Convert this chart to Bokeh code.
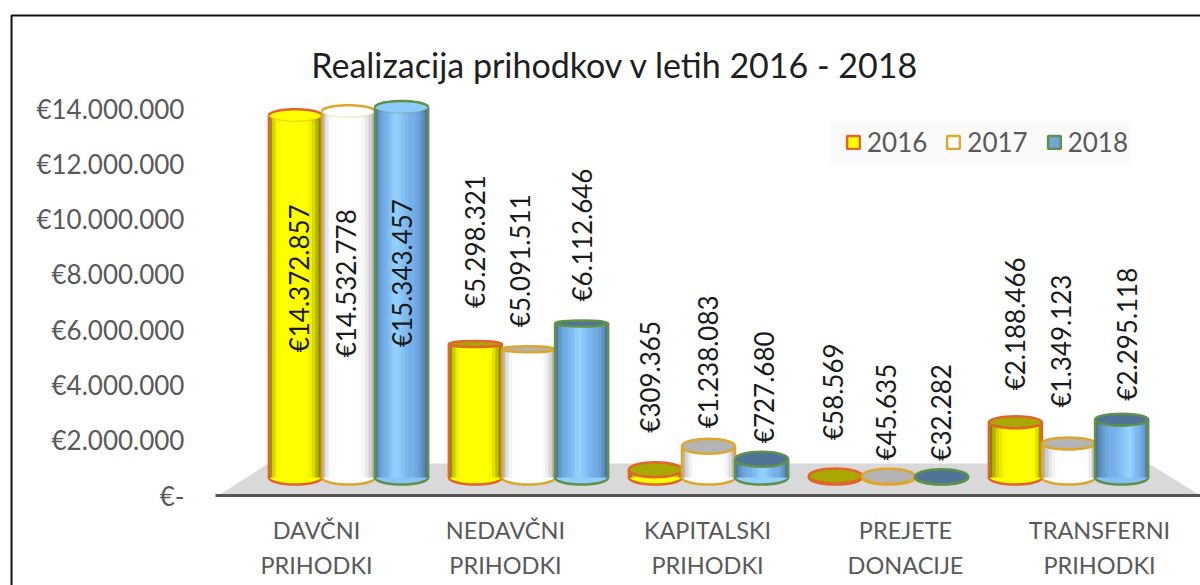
from bokeh.embed import file_html
from bokeh.resources import INLINE
from bokeh.plotting import figure
from bokeh.models import (Range1d, LinearAxis, FixedTicker, ColumnDataSource, Legend, LegendItem)
from bokeh.core.properties import value
import math

# ---- data ----
categories_line1 = ["DAVČNI", "NEDAVČNI", "KAPITALSKI", "PREJETE", "TRANSFERNI"]
categories_line2 = ["PRIHODKI", "PRIHODKI", "PRIHODKI", "DONACIJE", "PRIHODKI"]
years = ["2016", "2017", "2018"]
values_2016 = [14372857, 5298321, 309365, 58569, 2188466]
values_2017 = [14532778, 5091511, 1238083, 45635, 1349123]
values_2018 = [15343457, 6112646, 727680, 32282, 2295118]
y_ticks = [0, 2000000, 4000000, 6000000, 8000000, 10000000, 12000000, 14000000]
y_tick_labels = ["€-", "€2.000.000", "€4.000.000", "€6.000.000", "€8.000.000",
                 "€10.000.000", "€12.000.000", "€14.000.000"]
title_text = "Realizacija prihodkov v letih 2016 - 2018"

# ---- styling and layout ----
FONT = "Lato"
series_values = [values_2016, values_2017, values_2018]
outline = ["#e2652c", "#dca72c", "#5f9148"]
light = [(255, 255, 0), (255, 255, 255), (150, 212, 255)]
mid = [(255, 255, 0), (255, 255, 255), (118, 176, 234)]
dark = [(105, 105, 0), (165, 165, 165), (66, 104, 142)]
cap_top = ["#a8a800", "#b4b4b4", "#4f7399"]
body_swatch = ["#ffff00", "#ffffff", "#6fa5d8"]
cap_heights = [12, 6, 15, 15, 12]
bar_clip = 14.7e6
offset = 0.295
n_strips = 16
px_per_value = 25.2e-6
label_dx = [[4, -2, 0], [0, -8, 0], [-5, -1, 2], [-2, -3, -1], [0, -8, 5]]
label_dy = [[237, 246, 240], [-36, -22, -22], [-37, -18, -16], [-36, -16, -16], [-32, -36, -19]]

p = figure(width=1200, height=585, output_backend="svg", toolbar_location=None,
           x_range=Range1d(-1.9333, 4.7333), y_range=Range1d(-3.256e6, 17.909e6),
           min_border=0)
p.extra_y_ranges["bars"] = Range1d(-4.286e6, 18.929e6)
p.extra_x_ranges["labels"] = Range1d(-1.6122, 4.5102)
p.xaxis.visible = False
p.yaxis.visible = False
p.xgrid.visible = False
p.ygrid.visible = False
p.outline_line_color = None
p.background_fill_color = "white"
p.border_fill_color = "white"

# title
p.text([1.483], [15.59e6], text=[title_text], text_align="center", text_baseline="middle",
       text_font=value(FONT), text_font_size="34px", text_color="#1f1f1f")

# y axis
ya = LinearAxis(ticker=FixedTicker(ticks=y_ticks), fixed_location=-0.856,
                major_label_overrides=dict(zip(y_ticks, y_tick_labels)))
ya.axis_line_color = None
ya.major_tick_line_color = None
ya.minor_tick_line_color = None
ya.major_label_text_font = FONT
ya.major_label_text_font_size = "26px"
ya.major_label_text_color = "#595959"
ya.major_label_standoff = 4
p.add_layout(ya, "left")

# category axes (two stacked lines)
label_ticks = [0, 0.964, 1.995, 3.005, 3.995]
xa1 = LinearAxis(x_range_name="labels", ticker=FixedTicker(ticks=label_ticks), fixed_location=0,
                 bounds=(-0.515, 4.5102),
                 major_label_overrides=dict(zip(label_ticks, categories_line1)))
xa2 = LinearAxis(x_range_name="labels", ticker=FixedTicker(ticks=label_ticks), fixed_location=0,
                 bounds=(-0.515, 4.5102),
                 major_label_overrides=dict(zip(label_ticks, categories_line2)))
for ax in (xa1, xa2):
    ax.major_tick_line_color = None
    ax.minor_tick_line_color = None
    ax.major_label_text_font = FONT
    ax.major_label_text_font_size = "23.5px"
    ax.major_label_text_color = "#595959"
xa1.axis_line_color = "#555555"
xa1.axis_line_width = 3
xa1.major_label_standoff = 14
xa2.axis_line_color = None
xa2.major_label_standoff = 49
p.add_layout(xa1, "below")
p.add_layout(xa2, "below")

# picture border (left and top edges)
p.line([-1.872, -1.872, 4.7333], [-3.256e6, 17.366e6, 17.366e6], line_color="#111111", line_width=2)

# legend backdrop
p.quad(left=[2.672], right=[4.35], top=[13.567e6], bottom=[11.94e6], fill_color="#fafafa", line_color=None)

# floor
p.patch([-0.722, -0.444, 4.445, 4.733], [0, 1.158e6, 1.158e6, 0], fill_color="#d9d9d9", line_color=None)


def mix(a, b, t):
    return "#%02x%02x%02x" % tuple(int(round(a[i] + (b[i] - a[i]) * t)) for i in range(3))


def shade(s, g, t):
    h = 0.38 + 0.07 * g
    d = abs(t - h) / (h if t < h else 1 - h)
    if d < 0.45:
        return mix(light[s], mid[s], d / 0.45)
    return mix(mid[s], dark[s], ((d - 0.45) / 0.55) ** 2.2)


legend_items = []
for s, vals in enumerate(series_values):
    centers = [g + (s - 1) * offset for g in range(len(vals))]
    tops = [min(v, bar_clip) for v in vals]
    p.ellipse(centers, [0] * len(vals), width=offset, height=14, height_units="screen",
              y_range_name="bars", fill_color=[shade(s, g, 0.5) for g in range(len(vals))],
              line_color=outline[s], line_width=2.5)
    L, R, T, C = [], [], [], []
    for g, cx in enumerate(centers):
        for k in range(n_strips):
            L.append(cx - offset / 2 + offset * k / n_strips)
            R.append(cx - offset / 2 + offset * (k + 1) / n_strips + (0.004 if k < n_strips - 1 else 0))
            T.append(tops[g])
            C.append(shade(s, g, (k + 0.5) / n_strips))
    p.quad(left=L, right=R, top=T, bottom=[0] * len(L), y_range_name="bars", fill_color=C, line_color=None)
    p.segment([c - offset / 2 for c in centers], [0] * len(vals), [c - offset / 2 for c in centers], tops,
              y_range_name="bars", line_color=outline[s], line_width=2.5)
    p.segment([c + offset / 2 for c in centers], [0] * len(vals), [c + offset / 2 for c in centers], tops,
              y_range_name="bars", line_color=outline[s], line_width=2.5)
    # caps: the tallest group is seen from below, so only its upper arc is strong
    p.ellipse(centers[1:], tops[1:], width=offset, height=cap_heights[1:], height_units="screen",
              y_range_name="bars", fill_color=cap_top[s], line_color=outline[s], line_width=2.5)
    p.ellipse(centers[:1], tops[:1], width=offset, height=cap_heights[:1], height_units="screen",
              y_range_name="bars", fill_color=shade(s, 0, 0.45), line_color=outline[s], line_alpha=0.25,
              line_width=1.5)
    arc = [math.pi * k / 24 for k in range(25)]
    p.line([centers[0] + offset / 2 * math.cos(a) for a in arc],
           [tops[0] + cap_heights[0] / 2 / px_per_value * math.sin(a) for a in arc],
           y_range_name="bars", line_color=outline[s], line_width=2.5)
    src = ColumnDataSource(dict(
        x=centers, y=tops,
        t=["€" + f"{v:,}".replace(",", ".") for v in vals],
        dx=[label_dx[g][s] for g in range(len(vals))],
        dy=[label_dy[g][s] for g in range(len(vals))]))
    p.text("x", "y", text="t", source=src, y_range_name="bars", angle=math.pi / 2,
           text_align="left", text_baseline="middle", x_offset="dx", y_offset="dy",
           text_font=value(FONT), text_font_size="26px", text_color="#1a1a1a", level="overlay")
    nan = float("nan")
    swatch = p.quad(left=[nan], right=[nan], top=[nan], bottom=[nan], fill_color=body_swatch[s],
                    line_color=outline[s], line_width=2.5)
    legend_items.append(LegendItem(label=years[s], renderers=[swatch]))

legend = Legend(items=legend_items, orientation="horizontal", location=(845, 427),
                background_fill_alpha=0, border_line_color=None,
                label_text_font=FONT, label_text_font_size="26px", label_text_color="#595959",
                glyph_width=16, glyph_height=16, spacing=18, padding=8, margin=0, label_standoff=6)
p.add_layout(legend, "center")

open("out.html", "w").write(file_html(p, INLINE))
